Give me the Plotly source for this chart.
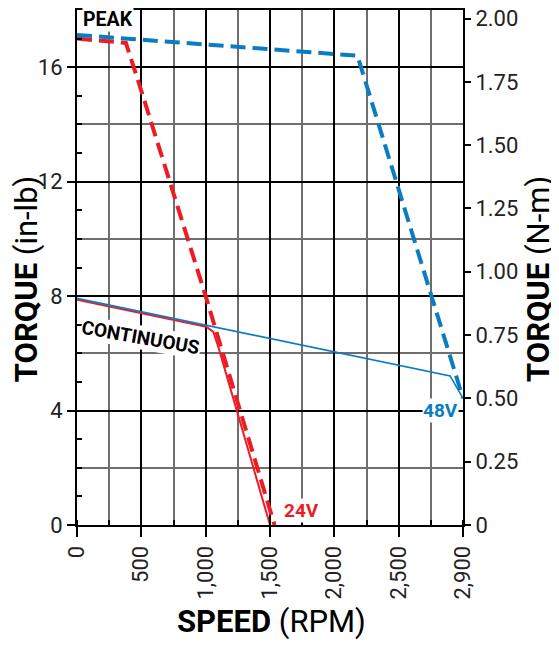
import plotly.graph_objects as go

# ---- data (speed in RPM on the chart's 0-3000 scale, torque in in-lb) ----
peak24_speed = [0, 380, 470, 1000, 1535]
peak24_torque = [17.0, 16.85, 15.6, 8.0, 0.0]

peak48_speed = [0, 2180, 3000]
peak48_torque = [17.13, 16.4, 4.43]

cont24_speed = [0, 1005, 1060, 1100, 1500]
cont24_torque = [7.87, 6.93, 6.75, 6.2, 0.0]

cont48_speed = [0, 2900, 3000]
cont48_torque = [7.92, 5.21, 4.43]

x_tickvals = [0, 500, 1000, 1500, 2000, 2500, 3000]
x_ticktext = ["0", "500", "1,000", "1,500", "2,000", "2,500", "2,900"]
y_tickvals = [0, 4, 8, 12, 16]
y2_tickvals = [0, 0.25, 0.5, 0.75, 1.0, 1.25, 1.5, 1.75, 2.0]
y2_ticktext = ["0", "0.25", "0.50", "0.75", "1.00", "1.25", "1.50", "1.75", "2.00"]

INLB_TO_NM = 0.112985
Y_MAX = 18

RED = "#ED1C24"
BLUE = "#0A7CC2"
FONT = "Roboto, Liberation Sans, sans-serif"
TICK_FONT = dict(size=22, family=FONT, color="#222222")

fig = go.Figure()
fig.add_trace(go.Scatter(x=cont24_speed, y=cont24_torque, mode="lines",
                         line=dict(color=RED, width=2)))
fig.add_trace(go.Scatter(x=cont48_speed, y=cont48_torque, mode="lines",
                         line=dict(color=BLUE, width=1.6)))
fig.add_trace(go.Scatter(x=peak24_speed, y=peak24_torque, mode="lines",
                         line=dict(color=RED, width=4, dash="15px,7px")))
fig.add_trace(go.Scatter(x=peak48_speed, y=peak48_torque, mode="lines",
                         line=dict(color=BLUE, width=4, dash="15px,7px")))
# invisible traces to carry the secondary axes
fig.add_trace(go.Scatter(x=[0], y=[0], mode="lines", yaxis="y3",
                         line=dict(width=0), hoverinfo="skip"))
fig.add_trace(go.Scatter(x=[0], y=[0], mode="lines", yaxis="y2",
                         line=dict(width=0), hoverinfo="skip"))

fig.update_layout(
    width=551, height=637,
    margin=dict(l=69, r=96, t=2, b=120, autoexpand=False),
    paper_bgcolor="white", plot_bgcolor="white",
    showlegend=False,
    font=dict(family=FONT, color="#222222", size=22),
    xaxis=dict(
        range=[0, 3000], tickvals=x_tickvals, ticktext=x_ticktext,
        tickangle=-90, ticks="outside", ticklen=10, tickwidth=2, tickcolor="black",
        showline=True, linecolor="black", linewidth=2, mirror=True,
        showgrid=True, gridcolor="black", gridwidth=1.5,
        minor=dict(dtick=250, tick0=0, showgrid=True, gridcolor="#6e6e6e",
                   gridwidth=1.5, ticks="inside", ticklen=5, tickcolor="black"),
        zeroline=False, tickfont=TICK_FONT, automargin=False,
        ticklabeloverflow="allow",
    ),
    yaxis=dict(
        range=[0, Y_MAX], tickvals=y_tickvals,
        ticks="outside", ticklen=8, tickwidth=2, tickcolor="black",
        showline=True, linecolor="black", linewidth=2,
        showgrid=True, gridcolor="black", gridwidth=1.5,
        minor=dict(dtick=2, tick0=0, showgrid=True, gridcolor="#6e6e6e",
                   gridwidth=1.5, ticks=""),
        zeroline=False, tickfont=TICK_FONT, automargin=False,
        ticklabeloverflow="allow",
    ),
    yaxis2=dict(
        overlaying="y", side="right", range=[0, Y_MAX * INLB_TO_NM],
        tickvals=y2_tickvals, ticktext=y2_ticktext,
        ticks="outside", ticklen=6, tickwidth=2, tickcolor="black",
        showline=True, linecolor="black", linewidth=2,
        showgrid=False, zeroline=False, tickfont=TICK_FONT, automargin=False,
        ticklabeloverflow="allow",
    ),
    yaxis3=dict(
        overlaying="y", side="left", range=[0, Y_MAX], dtick=1, tick0=0,
        ticks="inside", ticklen=5, tickwidth=1.5, tickcolor="black",
        showticklabels=False, showgrid=False, zeroline=False, showline=False,
        automargin=False,
    ),
)

def label(x, y, text, size, color, angle=0, bg="white", xref="x", yref="y"):
    fig.add_annotation(x=x, y=y, xref=xref, yref=yref, text=text,
                       showarrow=False, xanchor="center", yanchor="middle",
                       font=dict(family=FONT, size=size, color=color),
                       textangle=angle, bgcolor=bg, borderpad=0)

label(241, 17.66, "<b>PEAK</b>", 19.5, "black")
label(498, 6.57, "<b>CONTINUOUS</b>", 19, "black", angle=10)
label(1742, 0.52, "<b>24V</b>", 19, RED)
label(2823, 3.99, "<b>48V</b>", 19, BLUE)

# axis titles
label(-0.129, 0.4777, "<b>TORQUE</b> (in-lb)", 31, "black", angle=-90,
      bg="rgba(0,0,0,0)", xref="paper", yref="paper")
label(1.197, 0.4777, "<b>TORQUE</b> (N-m)", 31, "black", angle=-90,
      bg="rgba(0,0,0,0)", xref="paper", yref="paper")
label(0.504, -0.188, "<b>SPEED</b> (RPM)", 31, "black",
      bg="rgba(0,0,0,0)", xref="paper", yref="paper")

fig.write_html("out.html")
